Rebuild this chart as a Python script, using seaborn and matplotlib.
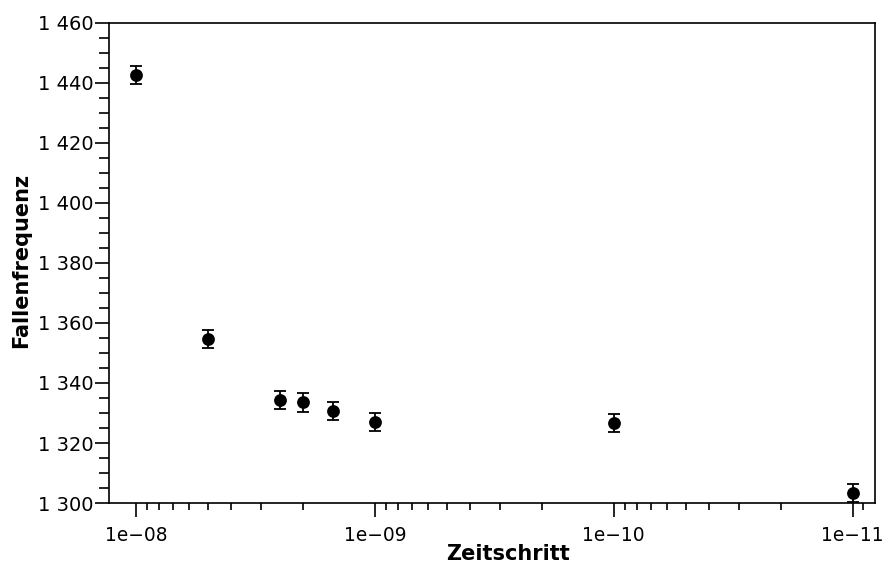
import numpy as np
import pandas as pd
import matplotlib
matplotlib.use("Agg")
import matplotlib.pyplot as plt
from matplotlib.ticker import FuncFormatter, LogLocator, MultipleLocator, NullFormatter
import seaborn as sns

# Measured trap frequency per integration time step
zeitschritt = [1e-8, 5e-9, 2.5e-9, 2e-9, 1.5e-9, 1e-9, 1e-10, 1e-11]
fallenfrequenz = [1442.5, 1354.6, 1334.2, 1333.5, 1330.6, 1327.1, 1326.7, 1303.2]
fehler = [3.0, 3.0, 3.0, 3.0, 3.0, 3.0, 3.0, 3.0]

df = pd.DataFrame({"Zeitschritt": zeitschritt,
                   "Fallenfrequenz": fallenfrequenz,
                   "Fehler": fehler})

sns.set_theme(style="white")
plt.rcParams["font.family"] = ["DejaVu Sans"]

fig = plt.figure(figsize=(8.86, 5.73), dpi=100)
ax = fig.add_axes([0.123, 0.122, 0.8646, 0.8385])

ax.errorbar(df["Zeitschritt"], df["Fallenfrequenz"], yerr=df["Fehler"],
            fmt="none", ecolor="black", elinewidth=1.3, capsize=4,
            capthick=1.3, zorder=2)
sns.scatterplot(data=df, x="Zeitschritt", y="Fallenfrequenz", ax=ax,
                color="black", s=85, edgecolor="black", linewidth=0,
                zorder=3)

ax.set_xscale("log")
ax.set_xlim(1.297e-8, 8.05e-12)
ax.set_ylim(1300, 1460)

ax.xaxis.set_major_locator(LogLocator(base=10, numticks=10))
ax.xaxis.set_minor_locator(LogLocator(base=10, subs=np.arange(2, 10), numticks=20))
ax.xaxis.set_major_formatter(
    FuncFormatter(lambda v, p: "1e\u2212{:02d}".format(int(round(-np.log10(v))))))
ax.xaxis.set_minor_formatter(NullFormatter())

ax.yaxis.set_major_locator(MultipleLocator(20))
ax.yaxis.set_minor_locator(MultipleLocator(5))
ax.yaxis.set_major_formatter(
    FuncFormatter(lambda v, p: "{:,}".format(int(round(v))).replace(",", " ")))

for s in ax.spines.values():
    s.set_color("black")
    s.set_linewidth(1.2)

ax.tick_params(axis="both", which="major", direction="out", length=10,
               width=1.2, color="black", labelsize=14, labelcolor="black",
               bottom=True, left=True)
ax.tick_params(axis="x", which="major", pad=6.5, labelsize=13.4)
ax.tick_params(axis="y", which="major", pad=1)
ax.tick_params(axis="y", which="minor", direction="out", length=7, width=1.2,
               color="black", left=True)
ax.tick_params(axis="x", which="minor", direction="out", length=5, width=1.2,
               color="black", bottom=True)

ax.set_xlabel("Zeitschritt", fontsize=15, fontweight="bold", color="black")
ax.set_ylabel("Fallenfrequenz", fontsize=15, fontweight="bold", color="black")
ax.xaxis.set_label_coords(0.521, -0.085)
ax.yaxis.set_label_coords(-0.101, 0.505)

fig.savefig("out.png", dpi=100, facecolor="white")
